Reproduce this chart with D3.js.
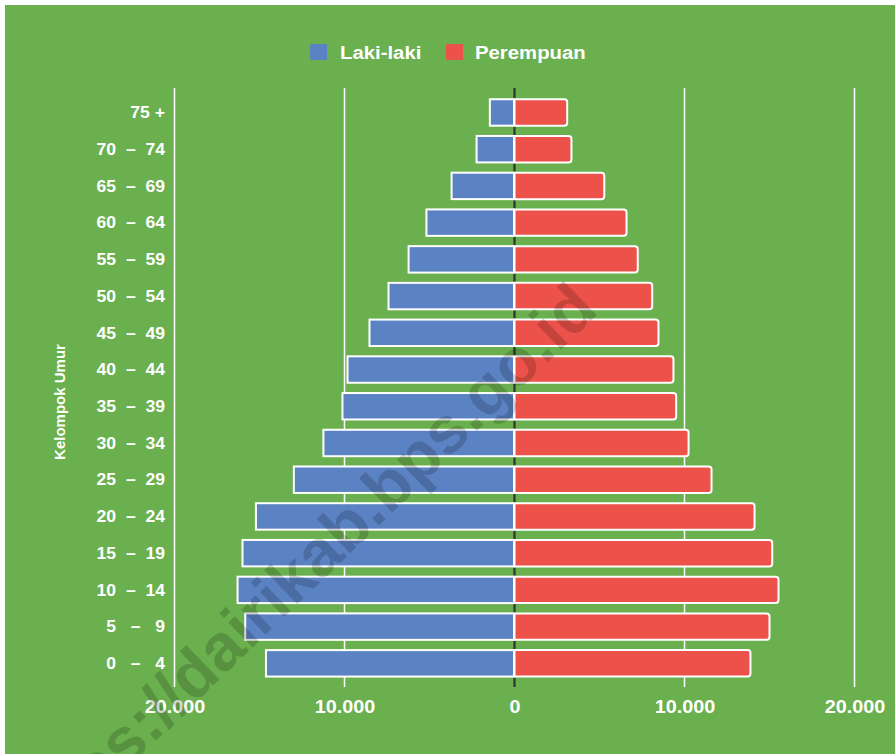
<!DOCTYPE html>
<html>
<head>
<meta charset="utf-8">
<script src="https://cdn.jsdelivr.net/npm/d3@7"></script>
<style>
  html, body { margin: 0; padding: 0; background: #ffffff; }
  svg { display: block; }
  text { font-family: "Liberation Sans", Arial, sans-serif; white-space: pre; }
</style>
</head>
<body>
<svg id="chart" width="895" height="754"></svg>
<script>
// ---- data ----
const categories = ["0   –   4", "5   –   9", "10  –  14", "15  –  19", "20  –  24", "25  –  29",
  "30  –  34", "35  –  39", "40  –  44", "45  –  49", "50  –  54", "55  –  59",
  "60  –  64", "65  –  69", "70  –  74", "75 +"];
const lakiLaki = [14620, 15840, 16290, 16000, 15210, 12980, 11240, 10120, 9820, 8530, 7410, 6230, 5180, 3700, 2230, 1450];
const perempuan = [13880, 15000, 15530, 15160, 14120, 11590, 10240, 9510, 9350, 8470, 8100, 7250, 6590, 5280, 3350, 3100];
const seriesNames = ["Laki-laki", "Perempuan"];
const xTickValues = [-20000, -10000, 0, 10000, 20000];
const xTickLabels = ["20.000", "10.000", "0", "10.000", "20.000"];
const axisTitle = "Kelompok Umur";
const watermark = "https://dairikab.bps.go.id";

// ---- style ----
const BG = "#6ab04e";
const BLUE = "#5b83c3";
const RED = "#ec5249";
const STRETCH = 1.1;

const svg = d3.select("#chart");
svg.append("rect").attr("x", 5).attr("y", 5).attr("width", 890).attr("height", 749).attr("fill", BG);

const x = d3.scaleLinear().domain([-20000, 20000]).range([174.5, 854.5]);
const y = d3.scaleBand().domain(categories.slice().reverse()).range([94.1, 681.7])
  .paddingInner(0.28).paddingOuter(0.14);
const x0 = x(0);
const gridTop = 88, gridBottom = 687;

// gridlines
svg.append("g").selectAll("line").data(xTickValues.filter(v => v !== 0)).join("line")
  .attr("x1", d => x(d)).attr("x2", d => x(d))
  .attr("y1", gridTop).attr("y2", gridBottom)
  .attr("stroke", "#ffffff").attr("stroke-width", 1.5);

// center line
svg.append("line").attr("x1", x0).attr("x2", x0).attr("y1", gridTop).attr("y2", gridBottom)
  .attr("stroke", "#333333").attr("stroke-width", 2.2);

// x axis labels
const xAxis = d3.axisBottom(x).tickValues(xTickValues)
  .tickFormat((d, i) => xTickLabels[i]).tickSize(0).tickPadding(0);
const gx = svg.append("g").attr("transform", `translate(0,${713})`).call(xAxis);
gx.select(".domain").remove();
gx.selectAll("text")
  .attr("dy", 0).attr("y", 0)
  .attr("fill", "#ffffff").attr("font-size", 18).attr("font-weight", "bold")
  .attr("transform", `scale(${STRETCH},1)`)
  .attr("font-family", "Liberation Sans, Arial, sans-serif");

// bars
const rows = categories.map((c, i) => ({ cat: c, m: lakiLaki[i], f: perempuan[i] }));
const bh = y.bandwidth();

svg.append("g").selectAll("rect").data(rows).join("rect")
  .attr("x", d => x(-d.m)).attr("y", d => y(d.cat))
  .attr("width", d => x0 - 0.5 - x(-d.m)).attr("height", bh)
  .attr("fill", BLUE).attr("stroke", "#ffffff").attr("stroke-width", 2);

function rightRounded(x1, y1, w, h, r) {
  return `M${x1},${y1}H${x1 + w - r}Q${x1 + w},${y1} ${x1 + w},${y1 + r}V${y1 + h - r}Q${x1 + w},${y1 + h} ${x1 + w - r},${y1 + h}H${x1}Z`;
}
svg.append("g").selectAll("path").data(rows).join("path")
  .attr("d", d => rightRounded(x0, y(d.cat), x(d.f) - x0, bh, 3))
  .attr("fill", RED).attr("stroke", "#ffffff").attr("stroke-width", 2);

// y labels
const yAxis = d3.axisLeft(y).tickSize(0).tickPadding(0);
const gy = svg.append("g").attr("transform", "translate(165,0)").call(yAxis);
gy.select(".domain").remove();
gy.selectAll("text")
  .attr("x", 0).attr("dy", "0.36em")
  .attr("fill", "#ffffff").attr("font-size", 16).attr("font-weight", "bold")
  .attr("text-anchor", "end")
  .attr("xml:space", "preserve")
  .attr("transform", `scale(${STRETCH},1)`)
  .attr("font-family", "Liberation Sans, Arial, sans-serif");

// axis title
svg.append("text")
  .attr("transform", "translate(65,402) rotate(-90)")
  .attr("text-anchor", "middle")
  .attr("fill", "#ffffff").attr("font-size", 15).attr("font-weight", "bold")
  .text(axisTitle);

// legend
const legend = [
  { name: seriesNames[0], color: BLUE, sx: 310, tx: 340 },
  { name: seriesNames[1], color: RED, sx: 446, tx: 475 }
];
const lg = svg.append("g");
lg.selectAll("rect").data(legend).join("rect")
  .attr("x", d => d.sx).attr("y", 44).attr("width", 17).attr("height", 16).attr("rx", 1)
  .attr("fill", d => d.color);
lg.selectAll("text").data(legend).join("text")
  .attr("transform", d => `translate(${d.tx},59) scale(${STRETCH + 0.03},1)`)
  .attr("fill", "#ffffff").attr("font-size", 18).attr("font-weight", "bold")
  .text(d => d.name);

// watermark
svg.append("text")
  .attr("transform", "translate(600,312) rotate(-44)")
  .attr("text-anchor", "end")
  .attr("font-size", 66).attr("font-weight", "bold")
  .attr("fill", "#000000").attr("fill-opacity", 0.17)
  .text(watermark);
</script>
</body>
</html>
